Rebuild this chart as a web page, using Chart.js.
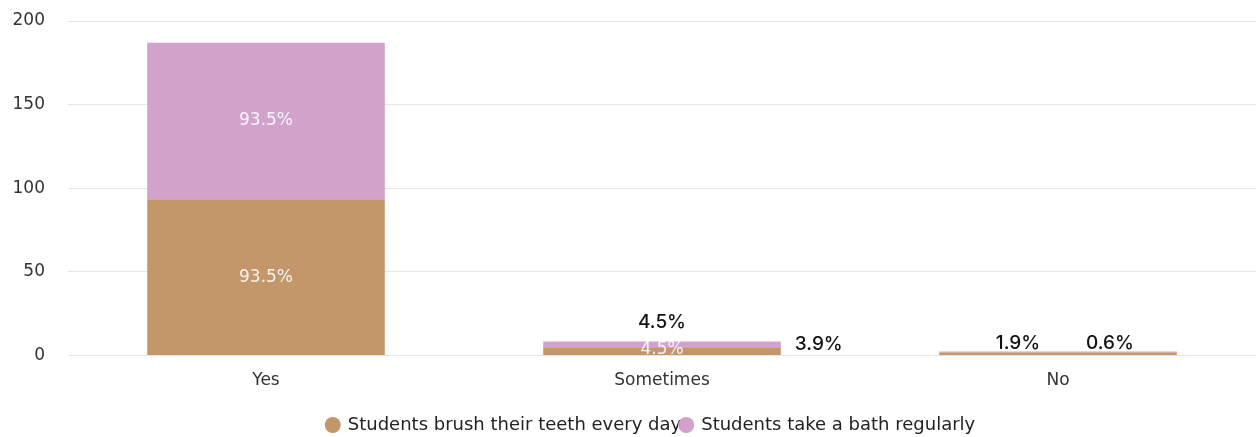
<!DOCTYPE html>
<html>
<head>
<meta charset="utf-8">
<script src="https://cdn.jsdelivr.net/npm/chart.js@4.4.1/dist/chart.umd.min.js"></script>
<style>
  html, body { margin: 0; padding: 0; background: #ffffff; }
  #wrap { width: 1256px; height: 437px; position: relative; }
</style>
</head>
<body>
<div id="wrap"><canvas id="c" width="1256" height="437"></canvas></div>
<script>
const categories = ['Yes', 'Sometimes', 'No'];
const seriesNames = ['Students brush their teeth every day', 'Students take a bath regularly'];
const brushTeeth = [93.5, 4.5, 1.9];
const takeBath = [93.5, 3.9, 0.6];
const yTicks = [0, 50, 100, 150, 200];

// label placement style (not data)
const placements = [
  ['center', 'centerStack+above', 'aboveLeft'],
  ['center', 'right', 'aboveRight']
];

const labelPlugin = {
  id: 'pctLabels',
  afterDatasetsDraw(chart) {
    const ctx = chart.ctx;
    ctx.save();
    ctx.textBaseline = 'middle';
    chart.data.datasets.forEach((ds, di) => {
      const meta = chart.getDatasetMeta(di);
      meta.data.forEach((el, i) => {
        const txt = ds.data[i] + '%';
        const p = placements[di][i];
        const top0 = chart.getDatasetMeta(1).data[i].y;
        const base = chart.getDatasetMeta(0).data[i].base;
        const half = el.width / 2;
        const white = () => { ctx.font = '17px "DejaVu Sans"'; ctx.fillStyle = 'rgba(255,255,255,0.88)'; ctx.textAlign = 'center'; };
        const black = () => { ctx.font = '500 19px Inter'; ctx.fillStyle = '#111'; ctx.textAlign = 'center'; };
        if (p === 'center') {
          white();
          ctx.fillText(txt, el.x, (el.y + el.base) / 2);
        } else if (p === 'centerStack+above') {
          white();
          ctx.fillText(txt, el.x, (top0 + base) / 2 + 1);
          black();
          ctx.fillText(txt, el.x, top0 - 19);
        } else if (p === 'right') {
          black();
          ctx.textAlign = 'left';
          ctx.fillText(txt, el.x + half + 14, top0 + 3);
        } else if (p === 'aboveLeft') {
          black();
          ctx.fillText(txt, el.x - 40, top0 - 8);
        } else if (p === 'aboveRight') {
          black();
          ctx.fillText(txt, el.x + 52, top0 - 8);
        }
      });
    });
    ctx.restore();
  }
};

// legend drawn on canvas (items slightly overlapping, as in the reference)
const legendPlugin = {
  id: 'overlapLegend',
  afterDraw(chart) {
    const ctx = chart.ctx;
    ctx.save();
    ctx.font = '18px "DejaVu Sans"';
    ctx.textBaseline = 'middle';
    ctx.textAlign = 'left';
    const y = 425, r = 8, gap = 15, spacing = -3;
    const items = chart.data.datasets.map(ds => ({ text: ds.label, color: ds.backgroundColor, w: ctx.measureText(ds.label).width }));
    const total = items.reduce((s, it) => s + r + gap + it.w, 0) + spacing * (items.length - 1);
    let x = 650 - total / 2;
    items.forEach(it => {
      ctx.fillStyle = '#222';
      ctx.fillText(it.text, x + r + gap, y);
      x += r + gap + it.w + spacing;
    });
    x = 650 - total / 2;
    items.forEach(it => {
      ctx.fillStyle = it.color;
      ctx.beginPath();
      ctx.arc(x + r, y, r, 0, Math.PI * 2);
      ctx.fill();
      x += r + gap + it.w + spacing;
    });
    ctx.restore();
  }
};

new Chart(document.getElementById('c'), {
  type: 'bar',
  data: {
    labels: categories,
    datasets: [
      { label: seriesNames[0], data: brushTeeth, backgroundColor: '#C4976A', borderWidth: 0 },
      { label: seriesNames[1], data: takeBath, backgroundColor: '#D1A2CC', borderWidth: 0 }
    ]
  },
  options: {
    responsive: false,
    animation: false,
    devicePixelRatio: 1,
    layout: { padding: { left: 12, right: 0, top: 21, bottom: 31 } },
    datasets: { bar: { categoryPercentage: 1.0, barPercentage: 0.6 } },
    scales: {
      x: {
        stacked: true,
        grid: { display: false, drawTicks: false },
        border: { display: false },
        ticks: { color: '#333', font: { family: 'DejaVu Sans', size: 17 }, padding: 15 }
      },
      y: {
        stacked: true,
        min: 0, max: 200,
        afterBuildTicks: (scale) => { scale.ticks = yTicks.map(v => ({ value: v })); },
        afterFit: (scale) => { scale.width = 56; scale.paddingTop = 0; scale.paddingBottom = 0; },
        grid: { color: '#e4e4e8', drawTicks: false, lineWidth: 1 },
        border: { display: false },
        ticks: { color: '#333', font: { family: 'DejaVu Sans', size: 17 }, padding: 23 }
      }
    },
    plugins: {
      legend: { display: false },
      tooltip: { enabled: false }
    }
  },
  plugins: [labelPlugin, legendPlugin]
});
</script>
</body>
</html>
